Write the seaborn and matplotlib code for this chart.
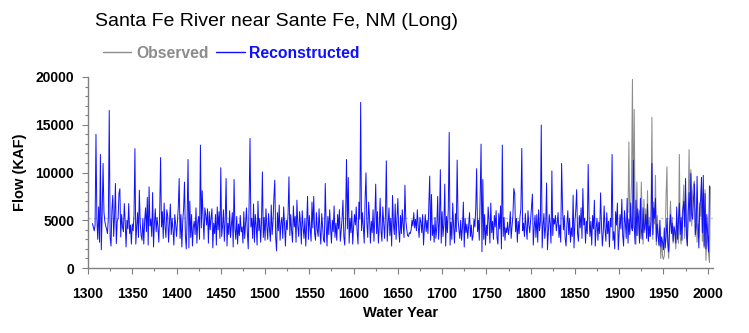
import numpy as np
import pandas as pd
import matplotlib
matplotlib.use("Agg")
import matplotlib.pyplot as plt
import seaborn as sns
from matplotlib.ticker import MultipleLocator
from matplotlib.lines import Line2D

recon_start = 1305
recon = [
    4650, 4300, 3900, 4500, 14000,
    5200, 3000, 6400, 2700, 11900, 1900, 5600, 10950, 5900, 4900,
    4400, 4100, 3600, 5300, 16500, 3200, 2300, 6100, 7600, 3300,
    5400, 8850, 2550, 4900, 5200, 7800, 8300, 3250, 5600, 4300,
    3800, 6750, 4900, 2200, 5000, 4100, 6750, 3600, 4500, 2500,
    4600, 3900, 5600, 12500, 2500, 4300, 5800, 3200, 8150, 4700,
    3400, 2900, 5200, 2500, 4900, 6300, 3800, 7400, 2400, 8500,
    4400, 5100, 3300, 7900, 2200, 4700, 6200, 3800, 5300, 4200,
    2700, 6000, 11570, 4300, 5900, 3100, 6800, 4400, 3200, 6100,
    5500, 2700, 4800, 6700, 3500, 5200, 4000, 2400, 5600, 4600,
    3300, 4800, 6400, 9370, 3100, 5600, 2200, 4900, 6200, 9000,
    3400, 2000, 5300, 11360, 2100, 7000, 3200, 5600, 2300, 4300,
    4900, 3500, 6300, 2600, 4800, 5400, 3000, 12870, 4200, 8100,
    5200, 3000, 6300, 5500, 4500, 6200, 2600, 5900, 4000, 5300,
    6200, 2100, 4700, 3600, 5600, 2400, 6400, 4000, 5900, 3100,
    10500, 3300, 4400, 6100, 2800, 5100, 9370, 2300, 4700, 3500,
    6000, 3200, 4500, 5800, 2200, 9270, 4100, 3000, 5400, 2500,
    4600, 3400, 5500, 3800, 4300, 2600, 5900, 3100, 4800, 6300,
    3700, 2000, 6800, 13570, 4300, 5200, 3100, 6700, 2700, 5600,
    4400, 2400, 7000, 3900, 5200, 2700, 4800, 10070, 3200, 5300,
    2900, 6200, 4400, 3000, 5700, 4100, 2800, 6600, 3500, 4800,
    7400, 9200, 3200, 1800, 5800, 3900, 6600, 2900, 4700, 5300,
    3100, 6400, 4600, 2300, 5000, 4000, 5700, 9550, 3400, 5600,
    3900, 2700, 6500, 4300, 5400, 2700, 7100, 4400, 3300, 5900,
    4700, 2500, 6000, 4300, 3100, 5200, 2300, 4600, 7500, 3000,
    5500, 4100, 2800, 6900, 4200, 7500, 3600, 2900, 5800, 4000,
    3300, 6200, 3900, 2500, 5700, 4300, 3000, 2700, 8850, 4600,
    2300, 5400, 3500, 6100, 4200, 2600, 5000, 3800, 6500, 3200,
    4700, 2900, 5600, 4100, 6100, 2800, 3900, 5200, 7100, 3300,
    2400, 5400, 11360, 4100, 9480, 2600, 5200, 3700, 6000, 2500,
    4300, 5600, 4500, 6400, 3800, 2500, 6900, 5100, 17340, 3900,
    5800, 4300, 2600, 7100, 9970, 4700, 3200, 6900, 5300, 2600,
    4900, 3700, 6100, 2800, 5200, 8780, 3600, 5900, 2600, 4300,
    7300, 3900, 2800, 6400, 4700, 3100, 5600, 11220, 2800, 4500,
    6300, 3400, 5200, 2300, 7600, 4600, 3500, 6700, 3000, 5200,
    7270, 4000, 2700, 5500, 3600, 6100, 4500, 3200, 8670, 5000,
    4100, 3400, 3300, 3700, 3600, 4000, 5000, 4400, 5800, 4200,
    5100, 3900, 6100, 4400, 3200, 5300, 4800, 3700, 5600, 2400,
    4200, 5600, 3800, 5000, 3600, 6700, 9620, 2900, 7700, 3400,
    4500, 2700, 5300, 3100, 4300, 7500, 3000, 4800, 10300, 2600,
    5900, 3300, 4600, 8780, 2300, 5400, 3700, 6200, 14200, 2400,
    4800, 3000, 6800, 4300, 2600, 5700, 3800, 11300, 5100, 4000,
    3100, 5000, 2900, 4300, 6900, 2200, 5200, 3700, 4600, 3100,
    4400, 5800, 3300, 4500, 2900, 3400, 5100, 4300, 6200, 10400,
    3800, 5000, 2900, 7500, 12970, 1700, 9270, 3000, 5600, 2400,
    4500, 3400, 6400, 5000, 2600, 6800, 3700, 4900, 3000, 5500,
    4300, 6000, 3200, 2500, 5700, 4100, 6500, 2000, 12870, 3300,
    5300, 2900, 4200, 3700, 4800, 3500, 4300, 5900, 3100, 4400,
    5500, 8320, 7800, 3800, 5200, 2700, 4900, 3600, 5400, 6200,
    12520, 3900, 4700, 3300, 5700, 4200, 3000, 6000, 4500, 3700,
    5000, 6300, 7730, 2400, 4200, 5500, 3200, 5600, 2700, 6100,
    3900, 4800, 14970, 2100, 4400, 5700, 3100, 4300, 8900, 1900,
    3700, 5600, 4600, 2600, 10170, 3400, 5200, 4600, 5500, 3900,
    4700, 5800, 3200, 4500, 2700, 10950, 6400, 4000, 5500, 3100,
    2300, 4600, 6000, 3500, 5200, 2700, 4200, 3300, 7620, 2100,
    4800, 6100, 8200, 3600, 2800, 5500, 4200, 6300, 3100, 8320,
    4500, 5200, 2600, 4900, 3600, 10840, 5400, 3300, 4900, 2400,
    5500, 4100, 7100, 2300, 4200, 5200, 2900, 4800, 3600, 7870,
    4600, 2300, 3700, 6500, 4100, 2800, 5800, 3600, 4900, 2200,
    5200, 4300, 11890, 2900, 3800, 2000, 5900, 4500, 6800, 1900,
    3800, 5600, 4100, 7200, 3400, 2300, 6000, 4700, 3100, 7300,
    2600, 5100, 3500, 6800, 4200, 3900, 11290, 4500, 2500, 7100,
    3400, 6200, 5000, 2600, 7300, 4100, 3000, 6300, 3700, 4500,
    5600, 3100, 6700, 2800, 4400, 3300, 5000, 10950, 3500, 6300,
    5200, 7300, 2800, 4600, 3300, 2400, 5000, 2200, 3200, 2700,
    1900, 4200, 2100, 3200, 5200, 2600, 1700, 4300, 5600, 3600,
    4700, 2800, 4300, 3800, 2600, 6400, 3000, 4900, 6800, 3500,
    5300, 2900, 6100, 7000, 4300, 9370, 3600, 2300, 5800, 7900,
    4900, 9900, 5600, 5100, 7300, 8800, 3500, 4400, 9600, 5000,
    2100, 6300, 7200, 9500, 3700, 9700, 2300, 7800, 2000, 5600,
    3400, 1700, 8600,
]

obs_start = 1910
observed = [
    5800, 13200, 3800, 6500, 9000, 19750, 4200, 16600, 5000, 2500,
    9000, 3400, 5200, 6000, 3100, 9000, 4800, 2500, 7200, 4000,
    6200, 3400, 8100, 2800, 5300, 3300, 4800, 15770, 3000, 6900,
    4600, 9700, 2400, 5500, 3800, 2300, 4200, 1000, 3300, 1200,
    900, 1300, 3300, 7600, 10600, 2200, 1000, 4600, 7000, 3800,
    5300, 2600, 4400, 3400, 2000, 5300, 3500, 2600, 11890, 3200,
    2500, 5300, 6400, 8700, 3100, 7800, 3400, 2400, 6600, 12400,
    4800, 10300, 4400, 7900, 8700, 9100, 3300, 6200, 2700, 4600,
    3200, 6800, 5400, 8600, 2800, 7300, 2100, 8200, 800, 3000,
    3400, 1500, 600, 8500,
]

mean_flow = 5250
title = "Santa Fe River near Sante Fe, NM (Long)"
xticks = list(range(1300, 2001, 50))
yticks = [0, 5000, 10000, 15000, 20000]

df_r = pd.DataFrame({"year": np.arange(recon_start, recon_start + len(recon)), "flow": recon})
df_o = pd.DataFrame({"year": np.arange(obs_start, obs_start + len(observed)), "flow": observed})

sns.set_style("white")
plt.rcParams["font.family"] = ["Liberation Sans", "DejaVu Sans"]

fig = plt.figure(figsize=(7.49, 3.33), dpi=100)
ax = fig.add_axes([88 / 749, 1 - 268 / 333, (713 - 88) / 749, (268 - 77) / 333])

blue = "#1010ff"
gray = "#8c8c8c"

ax.axhline(mean_flow, color="#c8c8c8", lw=1.0, ls=(0, (2, 2)), zorder=1)
sns.lineplot(data=df_o, x="year", y="flow", ax=ax, color=gray, lw=0.75, zorder=2)
sns.lineplot(data=df_r, x="year", y="flow", ax=ax, color=blue, lw=0.7, zorder=3)

ax.set_xlim(1300, 2006)
ax.set_ylim(0, 20000)
ax.set_xticks(xticks)
ax.set_yticks(yticks)
ax.xaxis.set_minor_locator(MultipleLocator(25))
ax.yaxis.set_minor_locator(MultipleLocator(1000))
ax.tick_params(axis="both", which="major", direction="out", length=4, width=0.8,
               color="#808080", labelsize=10, labelcolor="black")
ax.tick_params(axis="x", which="major", pad=10)
ax.tick_params(axis="y", which="major", pad=6)
ax.tick_params(axis="both", which="minor", direction="out", length=2.5, width=0.8,
               color="#808080")
ax.tick_params(axis="x", which="both", bottom=True)
ax.tick_params(axis="y", which="both", left=True)
for lab in ax.get_xticklabels() + ax.get_yticklabels():
    lab.set_fontweight("bold")

for s in ["top", "right"]:
    ax.spines[s].set_visible(False)
for s in ["left", "bottom"]:
    ax.spines[s].set_color("#808080")
    ax.spines[s].set_linewidth(1.0)

ax.set_xlabel("Water Year", fontsize=10.5, fontweight="bold", labelpad=3, color="black")
ax.set_ylabel("Flow (KAF)", fontsize=10.5, fontweight="bold", labelpad=6, color="black")

fig.text(95 / 749, 1 - 22 / 333, title, fontsize=14, va="center", ha="left", color="black")

handles = [Line2D([], [], color=gray, lw=1), Line2D([], [], color=blue, lw=1)]
leg = fig.legend(handles, ["Observed", "Reconstructed"], loc="center left",
                 bbox_to_anchor=(103 / 749, 1 - 53 / 333), ncol=2, frameon=False,
                 handlelength=1.8, handletextpad=0.3, columnspacing=0.5,
                 borderaxespad=0, borderpad=0,
                 prop={"weight": "bold", "size": 11.3})
for t, c in zip(leg.get_texts(), [gray, blue]):
    t.set_color(c)

fig.savefig("out.png", dpi=100)
